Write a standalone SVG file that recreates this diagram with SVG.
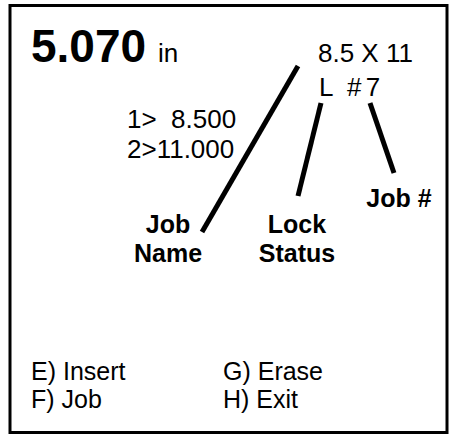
<svg xmlns="http://www.w3.org/2000/svg" width="456" height="438" viewBox="0 0 456 438">
<style>
text{font-family:"Liberation Sans",Arial,sans-serif;fill:#000;font-size:26px}
.b{font-weight:bold;font-size:25px}
.c{text-anchor:middle}
.m{font-size:25px}
.ln{stroke:#000;stroke-width:5;fill:none}
</style>
<rect x="0" y="0" width="456" height="438" fill="#fff"/>
<rect x="10" y="5.5" width="437" height="427" fill="none" stroke="#000" stroke-width="3"/>
<g id="reading">
<text x="31" y="62" class="b" style="font-size:46px">5.070</text>
<text x="158" y="62">in</text>
</g>
<g id="size">
<text x="318" y="62">8.5 X 11</text>
</g>
<g id="status">
<text x="319" y="96" xml:space="preserve">L  <tspan style="word-spacing:-3px"># 7</tspan></text>
</g>
<g id="dims">
<text x="127" y="128" xml:space="preserve">1&gt;  8.500</text>
<text x="127" y="158">2&gt;11.000</text>
</g>
<g id="connectors">
<line class="ln" x1="298" y1="66" x2="202" y2="232"/>
<line class="ln" x1="321" y1="103" x2="298" y2="196"/>
<line class="ln" x1="370" y1="103" x2="394" y2="173"/>
</g>
<g id="jobname">
<text x="168" y="233" class="b c">Job</text>
<text x="168" y="262" class="b c">Name</text>
</g>
<g id="lockstatus">
<text x="297" y="233" class="b c">Lock</text>
<text x="297" y="262" class="b c">Status</text>
</g>
<g id="jobnum">
<text x="399" y="207" class="b c">Job #</text>
</g>
<g id="menu">
<text x="31" y="380" class="m">E) Insert</text>
<text x="31" y="408" class="m">F) Job</text>
<text x="223" y="380" class="m">G) Erase</text>
<text x="223" y="408" class="m">H) Exit</text>
</g>
</svg>
